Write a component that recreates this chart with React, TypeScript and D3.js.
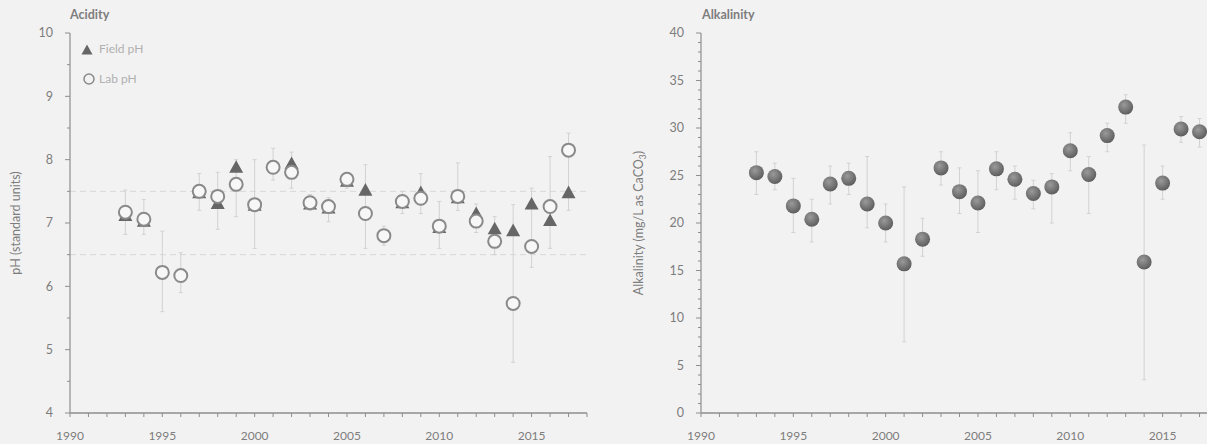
import * as d3 from 'd3';

// years sampled
const years = [1993, 1994, 1995, 1996, 1997, 1998, 1999, 2000, 2001, 2002, 2003, 2004, 2005,
  2006, 2007, 2008, 2009, 2010, 2011, 2012, 2013, 2014, 2015, 2016, 2017];

// Acidity (pH)
const fieldPH = [7.12, 7.03, null, null, 7.48, 7.31, 7.88, 7.28, null, 7.94, 7.3, 7.24, 7.66,
  7.52, null, 7.32, 7.48, 6.93, 7.4, 7.15, 6.91, 6.88, 7.3, 7.04, 7.48];
const labPH = [7.17, 7.06, 6.22, 6.17, 7.5, 7.42, 7.61, 7.29, 7.88, 7.8, 7.32, 7.26, 7.69,
  7.15, 6.8, 7.34, 7.39, 6.95, 7.42, 7.03, 6.71, 5.73, 6.63, 7.26, 8.15];
const phHi = [7.52, 7.37, 6.87, 6.53, 7.78, 7.8, 8.0, 8.0, 8.18, 8.12, 7.45, 7.4, 7.8,
  7.92, 6.95, 7.5, 7.78, 7.34, 7.95, 7.3, 7.1, 7.29, 7.55, 8.05, 8.42];
const phLo = [6.82, 6.82, 5.6, 5.9, 7.2, 6.9, 7.1, 6.6, 7.68, 7.55, 7.2, 7.02, 7.55,
  6.6, 6.65, 7.15, 7.15, 6.6, 7.2, 6.85, 6.5, 4.8, 6.3, 6.6, 7.2];
const phLimits = [6.5, 7.5];

// Alkalinity (mg/L as CaCO3)
const alkalinity = [25.3, 24.9, 21.8, 20.4, 24.1, 24.7, 22.0, 20.0, 15.7, 18.3, 25.8, 23.3, 22.1,
  25.7, 24.6, 23.1, 23.8, 27.6, 25.1, 29.2, 32.2, 15.9, 24.2, 29.9, 29.6];
const alkHi = [27.5, 26.3, 24.7, 22.5, 26.0, 26.3, 27.0, 22.0, 23.8, 20.5, 27.5, 25.8, 25.5,
  27.5, 26.0, 24.5, 25.2, 29.5, 27.0, 30.5, 33.5, 28.2, 26.0, 31.2, 31.0];
const alkLo = [23.0, 23.5, 19.0, 18.0, 22.0, 23.0, 19.5, 18.0, 7.5, 16.5, 24.0, 21.0, 19.0,
  23.5, 22.5, 21.5, 20.0, 25.5, 21.0, 27.5, 30.5, 3.5, 22.5, 28.5, 28.0];

const W = 1207;
const H = 444;
const TOP = 33;
const BOTTOM = 413;
const TEXT = '#7d7d7d';
const AXIS = '#8e8e8e';
const FONT = 'Lato, "Open Sans", sans-serif';

const xLeft = d3.scaleLinear().domain([1990, 2018]).range([70, 587]);
const xRight = d3.scaleLinear().domain([1990, 2018]).range([701, 1218]);
const yPH = d3.scaleLinear().domain([4, 10]).range([BOTTOM, TOP]);
const yAlk = d3.scaleLinear().domain([0, 40]).range([BOTTOM, TOP]);

const yearTicks = d3.range(1990, 2019);
const labelYears = [1990, 1995, 2000, 2005, 2010, 2015];

function XAxis({ x }: { x: d3.ScaleLinear<number, number> }) {
  return (
    <g>
      <line x1={x(1990)} x2={x(2018)} y1={BOTTOM} y2={BOTTOM} stroke={AXIS} strokeWidth={1.3} />
      {yearTicks.map(t => (
        <line key={t} x1={x(t)} x2={x(t)} y1={BOTTOM} y2={BOTTOM + 4} stroke={AXIS} />
      ))}
      {labelYears.map(t => (
        <text key={t} x={x(t)} y={440} textAnchor="middle" fontSize={12} fill={TEXT}>{t}</text>
      ))}
    </g>
  );
}

function YAxis({ y, x0, major, minor }: { y: d3.ScaleLinear<number, number>; x0: number; major: number[]; minor: number[] }) {
  return (
    <g>
      <line x1={x0} x2={x0} y1={TOP} y2={BOTTOM} stroke={AXIS} strokeWidth={1.2} />
      {minor.map(t => (
        <line key={'m' + t} x1={x0 - 3} x2={x0} y1={y(t)} y2={y(t)} stroke={AXIS} />
      ))}
      {major.map(t => (
        <g key={t}>
          <line x1={x0 - 5} x2={x0} y1={y(t)} y2={y(t)} stroke={AXIS} />
          <text x={x0 - 17} y={y(t)} dy="0.35em" textAnchor="end" fontSize={12.5} fill={TEXT}>{t}</text>
        </g>
      ))}
    </g>
  );
}

function triangle(cx: number, cy: number, s = 7) {
  return `M${cx},${cy - s}L${cx + s},${cy + s * 0.8}L${cx - s},${cy + s * 0.8}Z`;
}

export default function App() {
  const errColor = '#d2d2d2';
  return (
    <svg width={W} height={H} style={{ position: 'absolute', left: 0, top: 0, background: '#f3f2f2' }}
      fontFamily={FONT}>
      <defs>
        <radialGradient id="ball" cx="40%" cy="35%" r="65%">
          <stop offset="0%" stopColor="#9a9a9a" />
          <stop offset="100%" stopColor="#5e5e5e" />
        </radialGradient>
      </defs>

      {/* ---------- Acidity ---------- */}
      <text x={70} y={19} fontSize={12.5} fontWeight="bold" fill={TEXT}>Acidity</text>
      {phLimits.map(v => (
        <line key={v} x1={xLeft(1990)} x2={xLeft(2018)} y1={yPH(v)} y2={yPH(v)}
          stroke="#d8d8d8" strokeDasharray="6 4" />
      ))}
      <YAxis y={yPH} x0={70} major={d3.range(4, 11)} minor={d3.range(4.5, 10, 1)} />
      <XAxis x={xLeft} />
      <text transform={`translate(20,${(TOP + BOTTOM) / 2}) rotate(-90)`} textAnchor="middle"
        fontSize={12.5} fill={TEXT}>pH (standard units)</text>

      {years.map((yr, i) => (
        <g key={yr} stroke={errColor} strokeWidth={1}>
          <line x1={xLeft(yr)} x2={xLeft(yr)} y1={yPH(phHi[i])} y2={yPH(phLo[i])} />
          <line x1={xLeft(yr) - 2} x2={xLeft(yr) + 2} y1={yPH(phHi[i])} y2={yPH(phHi[i])} />
          <line x1={xLeft(yr) - 2} x2={xLeft(yr) + 2} y1={yPH(phLo[i])} y2={yPH(phLo[i])} />
        </g>
      ))}
      {years.map((yr, i) => fieldPH[i] == null ? null : (
        <path key={yr} d={triangle(xLeft(yr), yPH(fieldPH[i] as number))} fill="#666" />
      ))}
      {years.map((yr, i) => (
        <circle key={yr} cx={xLeft(yr)} cy={yPH(labPH[i])} r={6.5} fill="#f7f7f7"
          stroke="#8a8a8a" strokeWidth={2} />
      ))}

      {/* legend */}
      <path d={triangle(87, 50, 5.5)} fill="#666" />
      <text x={99} y={49} dy="0.35em" fontSize={12} fill="#b0b0b0">Field pH</text>
      <circle cx={89} cy={79} r={5} fill="none" stroke="#8a8a8a" strokeWidth={1.5} />
      <text x={99} y={79} dy="0.35em" fontSize={12} fill="#b0b0b0">Lab pH</text>

      {/* ---------- Alkalinity ---------- */}
      <text x={702} y={19} fontSize={12.5} fontWeight="bold" fill={TEXT}>Alkalinity</text>
      <YAxis y={yAlk} x0={701} major={d3.range(0, 41, 5)} minor={d3.range(1, 40).filter(v => v % 5 !== 0)} />
      <XAxis x={xRight} />
      <text transform={`translate(643,${(TOP + BOTTOM) / 2}) rotate(-90)`} textAnchor="middle"
        fontSize={12.5} fill={TEXT}>
        Alkalinity (mg/L as CaCO<tspan fontSize={8.5} dy={3}>3</tspan><tspan dy={-3}>)</tspan>
      </text>

      {years.map((yr, i) => (
        <g key={yr} stroke={errColor} strokeWidth={1}>
          <line x1={xRight(yr)} x2={xRight(yr)} y1={yAlk(alkHi[i])} y2={yAlk(alkLo[i])} />
          <line x1={xRight(yr) - 2} x2={xRight(yr) + 2} y1={yAlk(alkHi[i])} y2={yAlk(alkHi[i])} />
          <line x1={xRight(yr) - 2} x2={xRight(yr) + 2} y1={yAlk(alkLo[i])} y2={yAlk(alkLo[i])} />
        </g>
      ))}
      {years.map((yr, i) => (
        <circle key={yr} cx={xRight(yr)} cy={yAlk(alkalinity[i])} r={7.5} fill="url(#ball)" />
      ))}
    </svg>
  );
}
